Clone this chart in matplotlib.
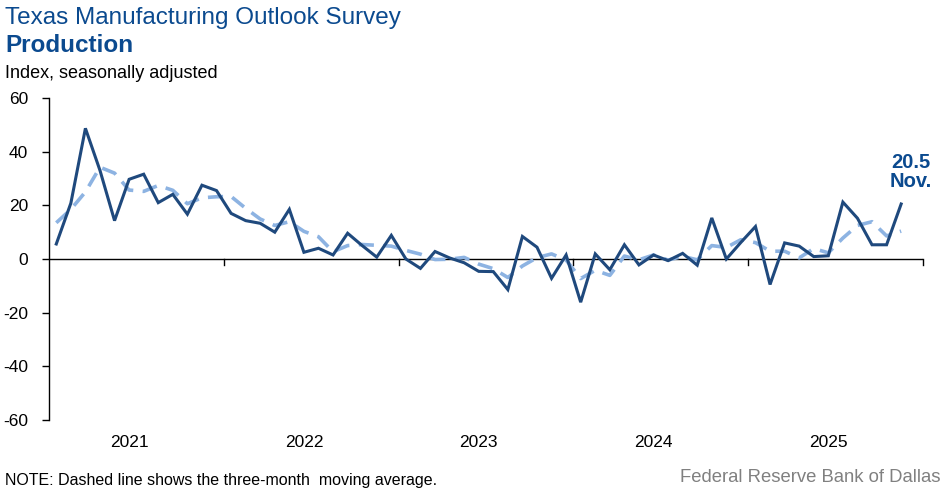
import matplotlib
matplotlib.use("Agg")
import matplotlib.pyplot as plt

plt.rcParams['font.family'] = ['Liberation Sans', 'DejaVu Sans']

# Monthly index, Jan 2021 .. Nov 2025
production = [5.6, 20.8, 48.7, 33.0, 14.3, 29.7, 31.6, 21.0, 24.1, 16.7, 27.5, 25.5,
              17.0, 14.3, 13.3, 10.0, 18.5, 2.5, 4.0, 1.5, 9.6, 5.0, 0.7, 8.8,
              0.0, -3.5, 2.8, 0.4, -1.4, -4.6, -4.7, -11.4, 8.4, 4.4, -7.2, 1.5,
              -16.1, 1.9, -4.0, 5.3, -2.2, 1.5, -0.6, 2.1, -2.3, 15.3, 0.0, 6.2,
              12.1, -9.5, 6.0, 4.8, 0.9, 1.2, 21.2, 15.2, 5.3, 5.3, 20.5]
moving_avg = [13.5, 18.5, 25.0, 34.2, 32.0, 25.7, 25.2, 27.4, 25.6, 20.6, 22.8, 23.2,
              23.3, 18.9, 14.9, 12.5, 13.9, 10.3, 8.3, 2.7, 5.0, 5.4, 5.1, 4.8,
              3.2, 1.8, -0.2, -0.1, 0.6, -1.9, -3.6, -6.9, -2.6, 0.5, 1.9, -0.4,
              -7.3, -4.2, -6.1, 1.1, -0.3, 1.5, -0.4, 1.0, -0.3, 5.0, 4.3, 7.2,
              6.1, 2.9, 2.9, 0.4, 3.9, 2.3, 7.8, 12.5, 13.9, 8.6, 10.4]
years = ['2021', '2022', '2023', '2024', '2025']
yticks = [60, 40, 20, 0, -20, -40, -60]
last_label = '20.5\nNov.'

dark = '#1F497D'
light = '#8DB3E2'
title_col = '#0B4A8F'

fig = plt.figure(figsize=(9.49, 4.93), dpi=100)
ax = fig.add_axes([49/949, 1-420/493, (923-49)/949, (420-98)/493])

x = list(range(len(production)))
ax.plot(x, moving_avg, color=light, lw=2.6, dashes=(4.2, 2.6), zorder=2)
ax.plot(x, production, color=dark, lw=2.2, zorder=3, solid_joinstyle='miter')

ax.set_xlim(-0.5, 59.5)
ax.set_ylim(-60, 60)
ax.axhline(0, color='black', lw=1.0, zorder=1)

# year boundary ticks on zero line
for k in range(1, 6):
    xb = 12*k - 0.5
    ax.plot([xb, xb], [0, -2.2], color='black', lw=1.0, clip_on=False, zorder=1)

ax.set_xticks([])
for i, yr in enumerate(years):
    ax.text(12*i + 5, -65.5, yr, ha='center', va='top',
            fontsize=12.5, color='black', clip_on=False)

ax.set_yticks(yticks)
ax.set_yticklabels([str(v) for v in yticks], fontsize=12.5)
ax.tick_params(axis='y', direction='out', length=5, width=1, pad=10, color='black')
for s in ['top', 'right', 'bottom']:
    ax.spines[s].set_visible(False)
ax.spines['left'].set_linewidth(1.0)

ax.annotate(last_label, xy=(58, production[-1]), xytext=(911/949, 1-172/493),
            textcoords='figure fraction', ha='center', va='center',
            fontsize=14.5, fontweight='bold', color=title_col, linespacing=1.05)

fig.text(5/949, 1-18/493, 'Texas Manufacturing Outlook Survey', fontsize=17.5,
         color=title_col, va='center', ha='left')
fig.text(5/949, 1-46/493, 'Production', fontsize=17.5, fontweight='bold',
         color=title_col, va='center', ha='left')
fig.text(5/949, 1-74/493, 'Index, seasonally adjusted', fontsize=13,
         color='black', va='center', ha='left')
fig.text(5/949, 1-480/493, 'NOTE: Dashed line shows the three-month  moving average.',
         fontsize=11.5, color='black', va='center', ha='left')
fig.text(940/949, 1-478/493, 'Federal Reserve Bank of Dallas', fontsize=13.3,
         color='#808080', va='center', ha='right')

fig.savefig('out.png', dpi=100)
